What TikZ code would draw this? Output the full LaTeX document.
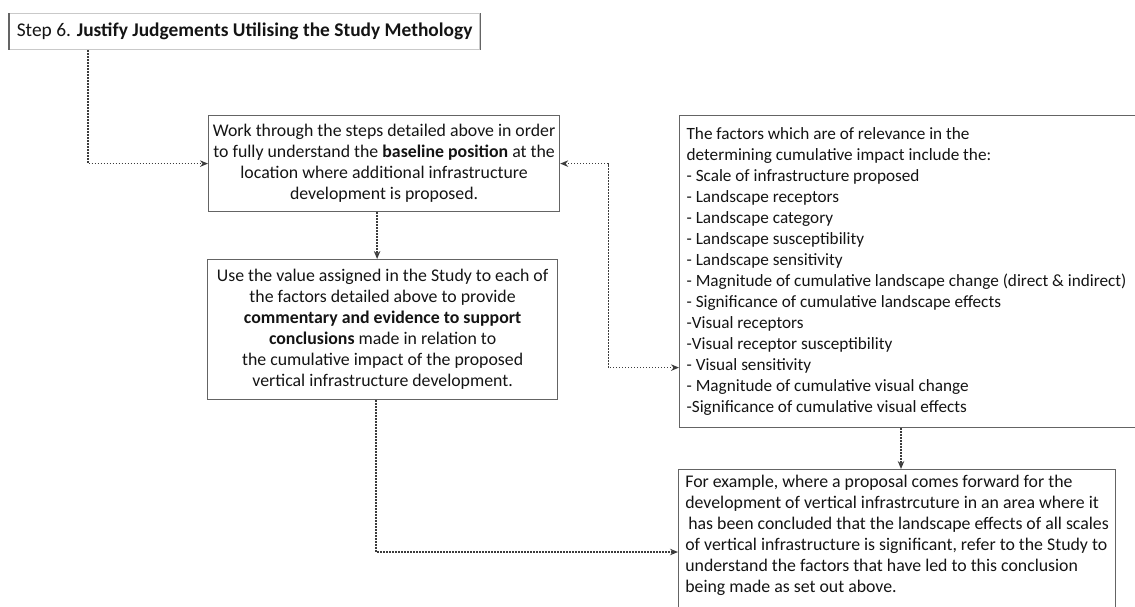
\documentclass[tikz,border=0pt]{standalone}
\usepackage{fontspec}
\setmainfont{Carlito}
\definecolor{boxgray}{RGB}{100, 100, 100}
\definecolor{linkgray}{RGB}{60, 60, 60}
\definecolor{textdark}{RGB}{20, 20, 20}
\usetikzlibrary{arrows.meta, positioning, calc}

\tikzset{
  box/.style={draw=boxgray, line width=1.2pt, inner sep=0pt, text=textdark, font=\fontsize{17.8}{21}\selectfont},
  link/.style={line width=1.4pt, draw=linkgray, dash pattern=on 1.4pt off 1.6pt, -{Stealth[length=8pt, width=6.5pt]}},
}

\begin{document}
\begin{tikzpicture}[x=1pt, y=-1pt]
  \useasboundingbox (0,0) rectangle (1135,606);

  % Step heading
  \node[box, draw=boxgray!35, anchor=north west, minimum width=470, minimum height=36, font=\fontsize{19.4}{22}\selectfont] (step) at (9,13) {Step 6. \textbf{Justify Judgements Utilising the Study Methology}};
  \draw[boxgray, line width=1.4pt] (step.north west) -- (step.south west);
  \draw[boxgray, line width=1.4pt] (step.north east) -- (step.south east);

  % Baseline position
  \node[box, anchor=north west, minimum width=351, minimum height=96, align=center] (base) at (208,115) {
    Work through the steps detailed above in order\\
    to fully understand the \textbf{baseline position} at the\\
    location where additional infrastructure\\
    development is proposed.
  };

  % Use the Study values
  \node[box, anchor=north west, minimum width=350, minimum height=140, align=center] (use) at (207,259) {
    Use the value assigned in the Study to each of\\
    the factors detailed above to provide\\
    \textbf{commentary and evidence to support}\\
    \textbf{conclusions} made in relation to\\
    the cumulative impact of the proposed\\
    vertical infrastructure development.
  };

  % Factors of relevance
  \node[box, anchor=north west, inner xsep=7pt, text width=462, minimum height=312, align=flush left, font=\fontsize{17.2}{21}\selectfont] (factors) at (679,115) {
    The factors which are of relevance in the\\
    determining cumulative impact include the:\\
    - Scale of infrastructure proposed\\
    - Landscape receptors\\
    - Landscape category\\
    - Landscape susceptibility\\
    - Landscape sensitivity\\
    - Magnitude of cumulative landscape change (direct \& indirect)\\
    - Significance of cumulative landscape effects\\
    -Visual receptors\\
    -Visual receptor susceptibility\\
    - Visual sensitivity\\
    - Magnitude of cumulative visual change\\
    -Significance of cumulative visual effects
  };

  % Worked example
  \node[box, anchor=north west, minimum width=437, inner ysep=6pt, align=left] (example) at (678,469) {
    For example, where a proposal comes forward for the\\
    development of vertical infrastrcuture in an area where it\\
    \hspace*{3pt}has been concluded that the landscape effects of all scales\\
    of vertical infrastructure is significant, refer to the Study to\\
    understand the factors that have led to this conclusion\\
    being made as set out above.\rule[-16pt]{0pt}{16pt}
  };

  % Connectors
  \coordinate (corner) at (88,163);
  \coordinate (elbow) at (376,552);
  \coordinate (drop) at (901,0);
  \draw[link] (step.south -| corner) |- (base.west);
  \draw[link] ([xshift=-7pt]base.south) -- ([xshift=-7pt]base.south |- use.north);
  \draw[link, {Stealth[length=8pt, width=6.5pt]}-{Stealth[length=8pt, width=6.5pt]}] (base.east) -- ++(48,0) |- ([yshift=-96pt]factors.west);
  \draw[link] (factors.south -| drop) -- (example.north -| drop);
  \draw[link] (use.south -| elbow) |- (example.west |- elbow);
\end{tikzpicture}
\end{document}
